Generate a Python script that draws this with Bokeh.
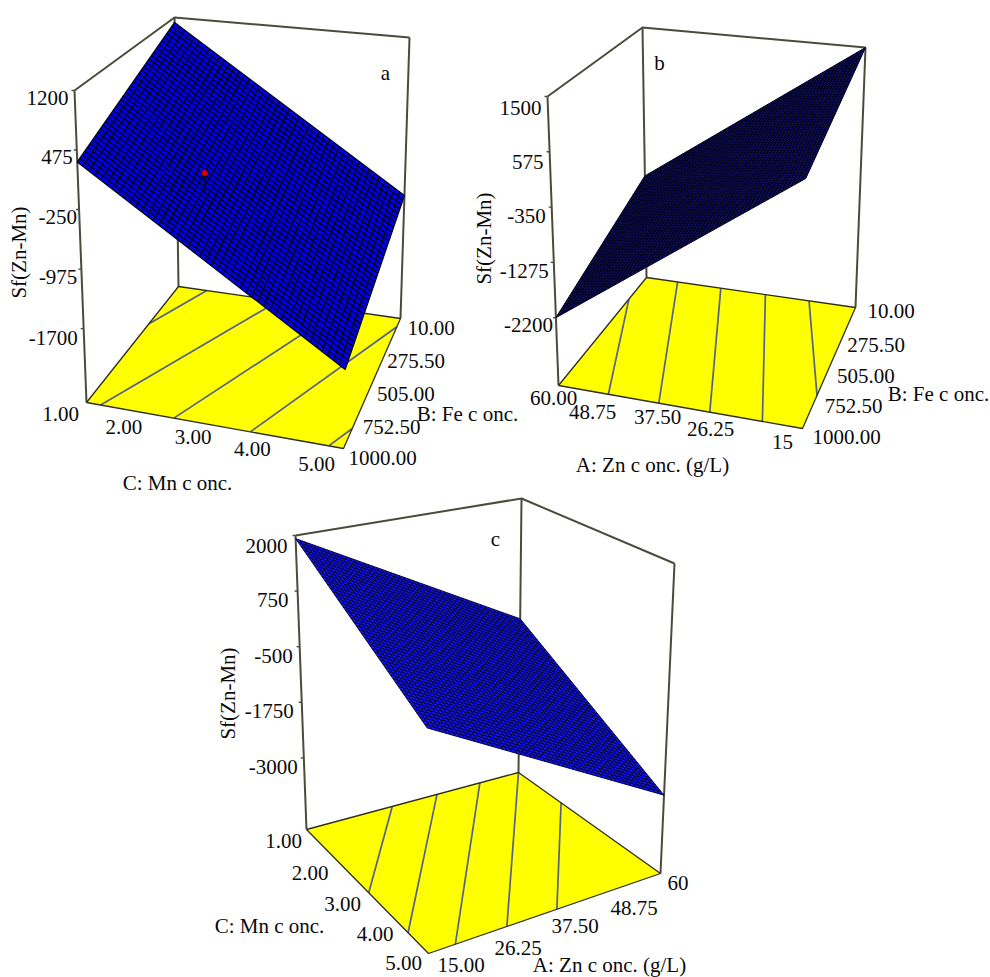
from bokeh.plotting import figure
from bokeh.models import Range1d
from bokeh.core.properties import value
from bokeh.embed import file_html
from bokeh.resources import INLINE
import math

# ---------- values ----------
# tick labels
a_z_ticks = [1200, 475, -250, -975, -1700]
a_z_labels = ["1200", "475", "-250", "-975", "-1700"]
a_mn_ticks = [1, 2, 3, 4, 5]
a_mn_labels = ["1.00", "2.00", "3.00", "4.00", "5.00"]
fe_ticks = [10, 257.5, 505, 752.5, 1000]
fe_labels = ["10.00", "275.50", "505.00", "752.50", "1000.00"]

b_z_ticks = [1500, 575, -350, -1275, -2200]
b_z_labels = ["1500", "575", "-350", "-1275", "-2200"]
b_zn_ticks = [60, 48.75, 37.5, 26.25, 15]
b_zn_labels = ["60.00", "48.75", "37.50", "26.25", "15"]

c_z_ticks = [2000, 750, -500, -1750, -3000]
c_z_labels = ["2000", "750", "-500", "-1750", "-3000"]
c_mn_ticks = [1, 2, 3, 4, 5]
c_mn_labels = ["1.00", "2.00", "3.00", "4.00", "5.00"]
c_zn_ticks = [15, 26.25, 37.5, 48.75, 60]
c_zn_labels = ["15.00", "26.25", "37.50", "48.75", "60"]

# surface corner heights: at (u0,v0), (u1,v0), (u1,v1), (u0,v1)
a_surface = [330, -1690, -937, 1130]
b_surface = [-2200, 577, 1500, -1370]
c_surface = [1930, -238, -2940, -902]

# floor contour end points (u value, v value)
a_contours = [((1, 327), (1.51, 10)), ((1.22, 1000), (2.8, 10)), ((2.36, 1000), (3.9, 10)),
              ((3.55, 1000), (5, 73)), ((4.77, 1000), (5, 848))]
b_contours = [((60, 208), (50.8, 1000)), ((53.3, 10), (41.5, 1000)), ((44, 10), (32.1, 1000)),
              ((34.4, 10), (22.4, 1000)), ((25, 10), (15, 729))]
c_contours = [((1, 33.2), (3.04, 15)), ((1, 42.7), (4.33, 15)), ((1, 51.8), (5, 20.2)),
              ((1, 60), (5, 30.2)), ((2.2, 60), (5, 39.9))]

# design point of panel a: Mn, Fe, top, bottom of its line
a_point = [2.4, 624, -80, -350]

# ---------- layout: the projection of each box ----------
PANELS = {
    "a": dict(floor=[(86, 402), (343, 448), (400, 318), (178, 286)],
              top=[(74, 90), (350, 118), (409, 37), (174, 17)],
              u=(1, 5), v=(1000, 10), z=(-2600, 1200), mesh=(46, 38),
              fill="#0000e8", mesh_color="#000018", mesh_w=1.2),
    "b": dict(floor=[(558, 385), (802, 428), (855, 307), (646, 277)],
              top=[(547, 96), (806, 119), (865, 47), (642, 27)],
              u=(60, 15), v=(1000, 10), z=(-3335, 1500), mesh=(52, 52),
              fill="#16169c", mesh_color="#00000c", mesh_w=1.0),
    "c": dict(floor=[(306, 829), (428, 953), (660, 873), (518, 772)],
              top=[(295, 535), (426, 612), (674, 563), (521, 498)],
              u=(1, 5), v=(15, 60), z=(-4610, 2000), mesh=(50, 50),
              fill="#1414ff", mesh_color="#000024", mesh_w=0.9),
}

BOX = "#4b4b3c"
FONT = value("Liberation Serif")
FS = "21px"
INK = "#0a0a0a"


def corners(q, u, v):
    return ((1-u)*(1-v)*q[0][0] + u*(1-v)*q[1][0] + u*v*q[2][0] + (1-u)*v*q[3][0],
            (1-u)*(1-v)*q[0][1] + u*(1-v)*q[1][1] + u*v*q[2][1] + (1-u)*v*q[3][1])


def frac(val, rng):
    return (val - rng[0]) / (rng[1] - rng[0])


def project(P, uval, vval, zval):
    u, v, w = frac(uval, P["u"]), frac(vval, P["v"]), frac(zval, P["z"])
    f, t = corners(P["floor"], u, v), corners(P["top"], u, v)
    return f[0] + (t[0]-f[0])*w, f[1] + (t[1]-f[1])*w


p = figure(width=990, height=977, output_backend="svg", toolbar_location=None,
           x_range=Range1d(0, 990), y_range=Range1d(977, 0),
           x_axis_type=None, y_axis_type=None, min_border=0)
p.grid.visible = False
p.outline_line_color = None
p.background_fill_color = "white"


def line(pts, color=BOX, width=2.0):
    p.line([q[0] for q in pts], [q[1] for q in pts], line_color=color, line_width=width)


def labels(texts, points, dxdy, align="center"):
    xs = [q[0] + d[0] for q, d in zip(points, dxdy)]
    ys = [q[1] + d[1] for q, d in zip(points, dxdy)]
    p.text(xs, ys, text=texts, text_font=FONT, text_font_size=FS, text_color=INK,
           text_align=align, text_baseline="middle")


def draw_panel(key, surface, contours, z_ticks, z_labels, z_off,
               u_ticks, u_labels, u_off, v_ticks, v_labels, v_off):
    P = PANELS[key]
    fl, tp = P["floor"], P["top"]
    for i in (0, 2, 3):
        line([tp[i], fl[i]])
    line([tp[0], tp[3], tp[2]])
    p.patch([q[0] for q in fl], [q[1] for q in fl], fill_color="#ffff00", line_color=None)
    for c0, c1 in contours:
        line([project(P, c0[0], c0[1], P["z"][0]), project(P, c1[0], c1[1], P["z"][0])],
             color="#55608c", width=1.7)
    line(fl + [fl[0]], color="#2e2e22", width=1.3)
    U, V = P["u"], P["v"]
    uc = [U[0], U[1], U[1], U[0]]
    vc = [V[0], V[0], V[1], V[1]]
    sc = [project(P, uc[i], vc[i], surface[i]) for i in range(4)]
    p.patch([q[0] for q in sc], [q[1] for q in sc], fill_color=P["fill"], line_color=None)
    nu, nv = P["mesh"]
    xs, ys = [], []
    for i in range(nu + 1):
        a0, a1 = corners(sc, i / nu, 0), corners(sc, i / nu, 1)
        xs.append([a0[0], a1[0]]); ys.append([a0[1], a1[1]])
    for j in range(nv + 1):
        a0, a1 = corners(sc, 0, j / nv), corners(sc, 1, j / nv)
        xs.append([a0[0], a1[0]]); ys.append([a0[1], a1[1]])
    p.multi_line(xs, ys, line_color=P["mesh_color"], line_width=P["mesh_w"])
    zp = [project(P, U[0], V[0], z) for z in z_ticks]
    for q in zp:
        line([(q[0]-3, q[1]), q], width=1.4)
    labels(z_labels, zp, z_off, "right")
    labels(u_labels, [project(P, t, V[0], P["z"][0]) for t in u_ticks], u_off)
    labels(v_labels, [project(P, U[1], t, P["z"][0]) for t in v_ticks], v_off, "left")


draw_panel("a", a_surface, a_contours, a_z_ticks, a_z_labels,
           [(-6, 7), (-4, 7), (-2, 7), (-4, 8), (-6, 9)],
           a_mn_ticks, a_mn_labels, [(-26, 11), (-27, 13), (-22, 11), (-27, 12), (-27, 15)],
           fe_ticks, fe_labels, [(7, 9), (1, 10), (5, 10), (5, 11), (5, 9)])
draw_panel("b", b_surface, b_contours, b_z_ticks, b_z_labels,
           [(-6, 11), (-6, 10), (-6, 9), (-5, 9), (-3, 7)],
           b_zn_ticks, b_zn_labels, [(-5, 12), (-27, 16), (-23, 10), (-31, 11), (-20, 13)],
           fe_ticks, fe_labels, [(12, 3), (5, 7), (8, 8), (9, 8), (10, 8)])
draw_panel("c", c_surface, c_contours, c_z_ticks, c_z_labels,
           [(-8, 10), (-9, 9), (-7, 9), (-8, 9), (-6, 9)],
           c_mn_ticks, c_mn_labels, [(-23, 11), (-27, 12), (-25, 12), (-23, 11), (-25, 9)],
           c_zn_ticks, c_zn_labels, [(9, 11), (8, 14), (7, 12), (8, 14), (7, 9)])

Pa = PANELS["a"]
top_pt = project(Pa, a_point[0], a_point[1], a_point[2])
low_pt = project(Pa, a_point[0], a_point[1], a_point[3])
line([top_pt, low_pt], color="#000000", width=1)
p.scatter([top_pt[0]], [top_pt[1]], size=5, fill_color="#e00000", line_color="#e00000")

titles = ["C: Mn c onc.", "B: Fe c onc.", "a",
          "A: Zn c onc. (g/L)", "B: Fe c onc.", "b",
          "C: Mn c onc.", "A: Zn c onc. (g/L)", "c"]
title_x = [177, 467, 385, 652, 938, 659, 269, 609, 495]
title_y = [482, 413, 72, 464, 393, 62, 925, 964, 538]
p.text(title_x, title_y, text=titles, text_font=FONT, text_font_size=FS, text_color=INK,
       text_align="center", text_baseline="middle")
p.text([18, 483, 227], [252, 238, 693], text=["Sf(Zn-Mn)"]*3, angle=math.pi/2, text_font=FONT,
       text_font_size=FS, text_color=INK, text_align="center", text_baseline="middle")

open("out.html", "w").write(file_html(p, INLINE))
